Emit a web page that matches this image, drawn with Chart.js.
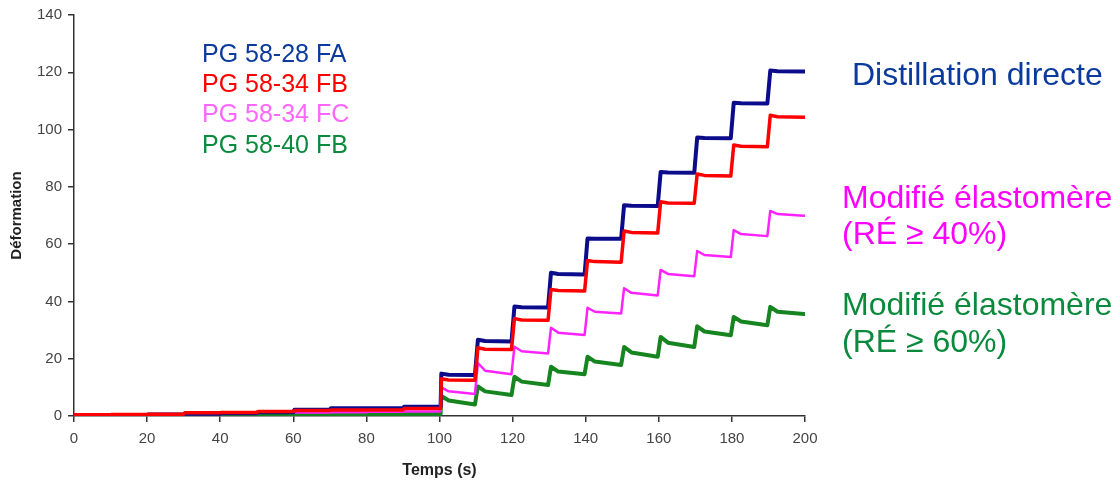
<!DOCTYPE html>
<html>
<head>
<meta charset="utf-8">
<script src="https://cdn.jsdelivr.net/npm/chart.js@4/dist/chart.umd.min.js"></script>
<style>
  html, body { margin: 0; padding: 0; background: #ffffff; }
  #wrap { width: 1120px; height: 482px; position: relative; }
</style>
</head>
<body>
<div id="wrap"><canvas id="c" width="1120" height="482"></canvas></div>
<script>
// ---- Data ----
const xTicks = [0, 20, 40, 60, 80, 100, 120, 140, 160, 180, 200];
const yTicks = [0, 20, 40, 60, 80, 100, 120, 140];

const seriesNames = ['PG 58-28 FA', 'PG 58-34 FB', 'PG 58-34 FC', 'PG 58-40 FB'];
const groupLabels = ['Distillation directe', 'Modifié élastomère', '(RÉ ≥ 40%)', 'Modifié élastomère', '(RÉ ≥ 60%)'];

// Low-load phase (0–100 s): level held from each time
const lowTimes = [0, 10, 20, 30, 40, 50, 60, 70, 80, 90, 100];
const faLow  = [0.3, 0.3, 0.5, 0.8, 1.0, 1.3, 2.2, 2.7, 2.7, 3.2, 3.3];
const fbLow  = [0.4, 0.5, 0.6, 1.1, 1.2, 1.6, 1.9, 2.1, 2.1, 2.6, 2.7];
const fcLow  = [0.5, 0.5, 0.6, 0.7, 0.8, 1.1, 1.2, 1.3, 1.5, 1.6, 1.7];
const g40Low = [0.2, 0.2, 0.3, 0.3, 0.4, 0.5, 0.6, 0.6, 0.7, 0.7, 0.8];

// High-load phase (100–200 s): peak after each load step, knee, end-of-cycle value
const stepTimes = [100, 110, 120, 130, 140, 150, 160, 170, 180, 190];
const faPeak = [14.8, 26.6, 38.2, 50.0, 62.0, 73.6, 85.2, 97.2, 109.4, 120.6];
const faKnee = [14.4, 26.2, 38.0, 49.6, 61.9, 73.4, 85.0, 97.1, 109.2, 120.4];
const faEnd  = [14.3, 26.0, 37.9, 49.4, 61.9, 73.3, 84.9, 97.0, 109.1, 120.3];

const fbPeak = [13.0, 23.8, 34.0, 44.2, 54.3, 64.6, 74.8, 84.5, 94.6, 105.0];
const fbKnee = [12.6, 23.3, 33.5, 43.8, 53.9, 64.1, 74.4, 84.0, 94.2, 104.5];
const fbEnd  = [12.5, 23.2, 33.4, 43.6, 53.7, 63.9, 74.3, 83.8, 94.0, 104.3];

const fcPeak = [10.0, 18.5, 24.2, 30.8, 37.8, 44.6, 51.0, 57.6, 64.9, 71.6];
const fcKnee = [8.6, 15.8, 22.6, 29.1, 36.4, 43.0, 49.6, 56.2, 63.5, 70.5];
const fcEnd  = [7.7, 14.6, 21.8, 28.3, 35.8, 42.1, 48.8, 55.5, 62.8, 69.9];

const g40Peak = [7.0, 10.3, 13.7, 17.2, 20.7, 24.1, 27.6, 31.3, 34.6, 38.1];
const g40Knee = [5.4, 8.6, 12.0, 15.5, 19.0, 22.2, 25.6, 29.5, 33.0, 36.4];
const g40End  = [4.0, 7.3, 10.8, 14.6, 17.8, 20.7, 24.1, 28.2, 31.7, 35.6];

// ---- Styles ----
const lineColors = ['#0b0b8c', '#ff0000', '#ff22ff', '#17851f'];
const lineWidths = [4, 3.5, 2.5, 4];
const textColors = ['#0a3a9c', '#ff0000', '#ff66ff', '#0a8a3c'];
const groupColors = ['#0a3a9c', '#ff00ff', '#ff00ff', '#0a8a3c', '#0a8a3c'];
const FONT = "'Liberation Sans', Arial, Helvetica, sans-serif";

function buildSeries(low, peak, knee, end) {
  const pts = [{ x: lowTimes[0], y: low[0] }];
  for (let i = 1; i < lowTimes.length; i++) {
    pts.push({ x: lowTimes[i], y: low[i - 1] });
    pts.push({ x: lowTimes[i] + 0.3, y: low[i] });
  }
  for (let i = 0; i < stepTimes.length; i++) {
    const t = stepTimes[i];
    pts.push({ x: t + 0.5, y: peak[i] });
    pts.push({ x: t + 2.5, y: knee[i] });
    pts.push({ x: t + 9.7, y: end[i] });
  }
  pts.push({ x: 200, y: end[end.length - 1] });
  return pts;
}

const seriesData = [
  buildSeries(faLow, faPeak, faKnee, faEnd),
  buildSeries(fbLow, fbPeak, fbKnee, fbEnd),
  buildSeries(fcLow, fcPeak, fcKnee, fcEnd),
  buildSeries(g40Low, g40Peak, g40Knee, g40End)
];
const drawOrder = [1, 0, 2, 3];

const textPlugin = {
  id: 'annotText',
  afterDraw(chart) {
    const ctx = chart.ctx;
    ctx.save();
    ctx.textAlign = 'left';
    ctx.textBaseline = 'alphabetic';
    // inline legend
    const legBase = [62, 92, 122, 153];
    ctx.font = '25px ' + FONT;
    seriesNames.forEach((n, i) => {
      ctx.fillStyle = textColors[i];
      ctx.fillText(n, 202, legBase[i]);
    });
    // group labels on the right
    const gx = [852, 842, 842, 842, 842];
    const gy = [85, 208, 244, 315, 352];
    ctx.font = '32px ' + FONT;
    groupLabels.forEach((s, i) => {
      ctx.fillStyle = groupColors[i];
      ctx.fillText(s, gx[i], gy[i]);
    });
    ctx.restore();
  }
};

new Chart(document.getElementById('c'), {
  type: 'line',
  data: {
    datasets: seriesData.map((d, i) => ({
      label: seriesNames[i],
      data: d,
      borderColor: lineColors[i],
      backgroundColor: lineColors[i],
      borderWidth: lineWidths[i],
      pointRadius: 0,
      tension: 0,
      fill: false,
      order: drawOrder[i],
      borderJoinStyle: 'round',
      borderCapStyle: 'round'
    }))
  },
  options: {
    responsive: false,
    animation: false,
    events: [],
    layout: { padding: { top: 14, right: 315, bottom: 0, left: 0 } },
    plugins: { legend: { display: false }, tooltip: { enabled: false } },
    scales: {
      x: {
        type: 'linear',
        min: 0, max: 200,
        afterBuildTicks: (s) => { s.ticks = xTicks.map(v => ({ value: v })); },
        afterFit: (s) => { s.height = 66; },
        grid: { display: true, drawOnChartArea: false, drawTicks: true, tickLength: 6, color: '#333333', lineWidth: 1.5 },
        border: { display: true, color: '#333333', width: 1.5 },
        ticks: { color: '#444444', font: { family: FONT, size: 15 }, padding: 8, maxRotation: 0 },
        title: { display: true, text: 'Temps (s)', color: '#222222', font: { family: FONT, size: 16, weight: 'bold' }, padding: { top: 0, bottom: 2 } }
      },
      y: {
        type: 'linear',
        min: 0, max: 140,
        afterBuildTicks: (s) => { s.ticks = yTicks.map(v => ({ value: v })); },
        afterFit: (s) => { s.width = 74; },
        grid: { display: true, drawOnChartArea: false, drawTicks: true, tickLength: 6, color: '#333333', lineWidth: 1.5 },
        border: { display: true, color: '#333333', width: 1.5 },
        ticks: { color: '#444444', font: { family: FONT, size: 15 }, padding: 6 },
        title: { display: true, text: 'Déformation', color: '#222222', font: { family: FONT, size: 15, weight: 'bold' }, padding: { top: 8, bottom: 0 } }
      }
    }
  },
  plugins: [textPlugin]
});
</script>
</body>
</html>
